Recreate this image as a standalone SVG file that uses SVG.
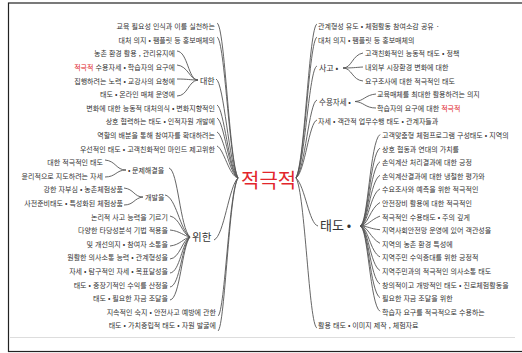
<svg xmlns="http://www.w3.org/2000/svg" width="522" height="353" viewBox="0 0 522 353">
<style>
text{font-family:"Noto Sans CJK KR","Noto Sans",sans-serif;fill:#333}
.t{font-size:7px;word-spacing:0.5px}
.l{text-anchor:end}
.red{fill:#e0262b}
.c{stroke:#555;stroke-width:0.9;fill:none}
</style>
<rect x="0" y="0" width="522" height="353" fill="#fff"/>
<rect x="8.5" y="3" width="520" height="348.5" fill="none" stroke="#222" stroke-width="1.2"/>
<line x1="10" y1="337.5" x2="515" y2="337.5" stroke="#ddd" stroke-width="1"/>
<g id="connectors" class="c">
<path d="M217,23 C225,26 229,160 238,178"/>
<path d="M217,37 C225,40 229,162 238,178"/>
<path d="M216,79 C224,82 229,166 238,178"/>
<path d="M217,105 C224,108 229,170 238,178"/>
<path d="M217,118 C224,121 229,172 238,178"/>
<path d="M217,132 C224,135 229,174 238,178"/>
<path d="M217,146 C224,149 229,176 238,178"/>
<path d="M214,240 C224,236 229,186 238,178"/>
<path d="M218,316 C225,312 229,190 238,178"/>
<path d="M218,331 C225,326 229,192 238,178"/>
<path d="M317,24 C309,27 305,160 296,178"/>
<path d="M317,37 C309,41 305,162 296,178"/>
<path d="M317,66 C309,68 305,165 296,178"/>
<path d="M317,100 C309,102 305,170 296,178"/>
<path d="M317,120 C309,122 305,172 296,178"/>
<path d="M318,226 C309,224 305,186 296,178"/>
<path d="M317,328 C309,326 305,192 296,178"/>
<path d="M177,51 C188,52 188,80 198,80"/>
<path d="M177,65 C188,66 190,80 198,80"/>
<path d="M177,79 C188,79 190,80 198,80"/>
<path d="M177,96 C188,96 188,81 198,80"/>
<path d="M105,160 C116,161 116,170 126,170"/>
<path d="M105,177 C116,177 116,170 126,170"/>
<path d="M124,188 C134,189 134,197 143,197"/>
<path d="M124,205 C134,205 134,198 143,197"/>
<path d="M169,168 C178,170 180,228 190,237"/>
<path d="M165,195 C176,197 180,230 190,237"/>
<path d="M170,216 C180,218 182,234 190,237"/>
<path d="M170,230 C180,231 184,236 190,237"/>
<path d="M170,246 C180,245 184,238 190,237"/>
<path d="M170,259 C180,258 182,240 190,237"/>
<path d="M170,273 C180,272 182,242 190,237"/>
<path d="M170,287 C180,286 182,244 190,237"/>
<path d="M170,300 C180,299 182,246 190,237"/>
<path d="M343,68 C352,68 352,55 363,53"/>
<path d="M343,68 C352,68 355,67.5 363,67"/>
<path d="M343,68 C352,68 352,80 363,81"/>
<path d="M355,101.5 C364,101 365,95 376,94"/>
<path d="M355,101.5 C364,102 365,108 376,108"/>
<path d="M360,226 C368,226 370,141 380,134.5"/>
<path d="M360,226 C368,226 370,154 380,148.1"/>
<path d="M360,226 C368,226 370,168 380,161.7"/>
<path d="M360,226 C368,226 370,181 380,175.3"/>
<path d="M360,226 C368,226 370,194 380,188.9"/>
<path d="M360,226 C368,226 370,208 380,202.5"/>
<path d="M360,226 C368,226 370,220 380,216.1"/>
<path d="M360,226 C368,226 370,229 380,229.7"/>
<path d="M360,226 C368,226 370,238 380,243.3"/>
<path d="M360,226 C368,226 370,252 380,256.9"/>
<path d="M360,226 C368,226 370,265 380,270.5"/>
<path d="M360,226 C368,226 370,278 380,284.1"/>
<path d="M360,226 C368,226 370,292 380,297.7"/>
<path d="M360,226 C368,226 370,305 380,311.3"/>
</g>
<g id="center"><text x="241" y="187.5" font-size="20" style="fill:#e2262c">적극적</text></g>
<g id="left-rows">
<text class="t l" x="215" y="29.1">교육 필요성 인식과 이를 실천하는</text>
<text class="t l" x="215" y="42.7">대처 의지 • 팸플릿 등 홍보매체의</text>
<text class="t l" x="175" y="56.3">농촌 환경 활용 , 관리유지에</text>
<text class="t l" x="175" y="69.9"><tspan class="red">적극적</tspan> 수용자세 • 학습자의 요구에</text>
<text class="t l" x="175" y="83.5">집행하려는 노력 • 교강사의 요청에</text>
<text class="t l" x="175" y="97.1">태도 • 온라인 매체 운영에</text>
<text class="t l" x="215" y="110.7">변화에 대한 능동적 대처의식 • 변화지향적인</text>
<text class="t l" x="215" y="124.3">상호 협력하는 태도 • 인적자원 개발에</text>
<text class="t l" x="215" y="137.9">역할의 배분을 통해 참여자를 확대하려는</text>
<text class="t l" x="215" y="151.5">우선적인 태도 • 고객친화적인 마인드 제고위한</text>
<text class="t l" x="103" y="165.1">대한 적극적인 태도</text>
<text class="t l" x="103" y="178.7">윤리적으로 지도하려는 자세</text>
<text class="t l" x="123" y="192.3">강한 자부심 • 농촌체험상품</text>
<text class="t l" x="123" y="205.9">사전준비태도 • 특성화된 체험상품</text>
<text class="t l" x="168" y="219.5">논리적 사고 능력을 기르기</text>
<text class="t l" x="168" y="233.1">다양한 타당성분석 기법 적용을</text>
<text class="t l" x="168" y="246.7">및 개선의지 • 참여자 소통을</text>
<text class="t l" x="168" y="260.3">원활한 의사소통 능력 • 관계형성을</text>
<text class="t l" x="168" y="273.9">자세 • 탐구적인 자세 • 목표달성을</text>
<text class="t l" x="168" y="287.5">태도 • 중장기적인 수익를 산정을</text>
<text class="t l" x="168" y="301.1">태도 • 필요한 자금 조달을</text>
<text class="t l" x="216" y="314.7">지속적인 숙지 • 안전사고 예방에 관한</text>
<text class="t l" x="216" y="328.3">태도 • 가치중립적 태도 • 자원 발굴에</text>
</g>
<g id="node-daehan"><text x="200" y="84" font-size="8">대한</text></g>
<g id="node-munje"><text x="128" y="172.5" font-size="7">• 문제해결을</text></g>
<g id="node-gaebal"><text x="145" y="199.5" font-size="7">개발을</text></g>
<g id="node-wihan"><text x="192" y="241" font-size="10.5">위한</text></g>
<g id="node-sago"><text x="319" y="71" font-size="8">사고 •</text></g>
<g id="node-suyong"><text x="319" y="104.5" font-size="7.5">수용자세 •</text></g>
<g id="node-taedo"><text x="320" y="230" font-size="13">태도 •</text></g>
<g id="right-rows">
<text class="t" x="318" y="29.1">관계형성 유도 • 체험활동 참여소감 공유 ·</text>
<text class="t" x="318" y="42.7">대처 의지 • 팸플릿 등 홍보매체의</text>
<text class="t" x="365" y="56.3">고객친화적인 능동적 태도 • 정책</text>
<text class="t" x="365" y="69.9">내외부 시장환경 변화에 대한</text>
<text class="t" x="365" y="83.5">요구조사에 대한 적극적인 태도</text>
<text class="t" x="377" y="97.1">교육매체를 최대한 활용하려는 의지</text>
<text class="t" x="377" y="110.7">학습자의 요구에 대한 <tspan class="red">적극적</tspan></text>
<text class="t" x="318" y="124.3">자세 • 객관적 업무수행 태도 • 관계자들과</text>
<text class="t" x="382" y="137.9">고객맞춤형 체험프로그램 구성태도 • 지역의</text>
<text class="t" x="382" y="151.5">상호 협동과 연대의 가치를</text>
<text class="t" x="382" y="165.1">손익계산 처리결과에 대한 긍정</text>
<text class="t" x="382" y="178.7">손익계산결과에 대한 냉철한 평가와</text>
<text class="t" x="382" y="192.3">수요조사와 예측을 위한 적극적인</text>
<text class="t" x="382" y="205.9">안전장비 활용에 대한 적극적인</text>
<text class="t" x="382" y="219.5">적극적인 수용태도 • 주의 깊게</text>
<text class="t" x="382" y="233.1">지역사회안전망 운영에 있어 객관성을</text>
<text class="t" x="382" y="246.7">지역의 농촌 환경 특성에</text>
<text class="t" x="382" y="260.3">지역주민 수익증대를 위한 긍정적</text>
<text class="t" x="382" y="273.9">지역주민과의 적극적인 의사소통 태도</text>
<text class="t" x="382" y="287.5">창의적이고 개방적인 태도 • 진로체험활동을</text>
<text class="t" x="382" y="301.1">필요한 자금 조달을 위한</text>
<text class="t" x="382" y="314.7">학습자 요구를 적극적으로 수용하는</text>
<text class="t" x="318" y="328.3">활용 태도 • 이미지 제작 , 체험자료</text>
</g>
</svg>
